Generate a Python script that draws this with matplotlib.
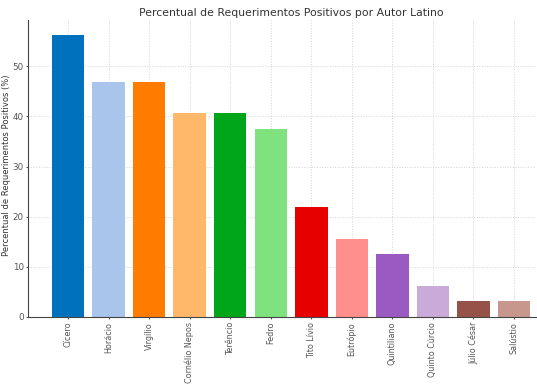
import matplotlib.pyplot as plt

# Dados
autores = ['Cícero', 'Horácio', 'Virgílio', 'Cornélio Nepos', 'Terêncio', 'Fedro',
           'Tito Lívio', 'Eutrópio', 'Quintiliano', 'Quinto Cúrcio', 'Júlio César', 'Salústio']
percentuais = [56.25, 46.875, 46.875, 40.625, 40.625, 37.5,
               21.875, 15.625, 12.5, 6.25, 3.125, 3.125]
cores = ['#0072bd', '#a9c5eb', '#ff7c00', '#ffb86a', '#00a61a', '#80e27e',
         '#e60000', '#ff8f8c', '#9b59c2', '#c9aad8', '#965248', '#c7968c']

fig = plt.figure(figsize=(5.37, 3.87), dpi=100)
ax = fig.add_axes([0.052, 0.181, 0.946, 0.767])

ax.bar(range(len(autores)), percentuais, color=cores, width=0.8, zorder=2)
ax.set_xticks(range(len(autores)))
ax.set_xticklabels(autores, rotation=90, fontsize=5.8, color='#333333')
ax.tick_params(axis='y', labelsize=6.3, labelcolor='#333333', pad=1.5)
ax.tick_params(axis='x', pad=2)
ax.tick_params(colors='#555555', length=1.5)
ax.set_xlim(-0.99, 11.54)
ax.set_ylim(0, 59.2)

ax.set_title('Percentual de Requerimentos Positivos por Autor Latino', fontsize=7.8,
             color='#333333', pad=3, x=0.518)
ax.set_ylabel('Percentual de Requerimentos Positivos (%)', fontsize=6, color='#333333')
ax.yaxis.set_label_coords(-0.034, 0.51)

ax.grid(True, linestyle=':', color='#d5d5d5', linewidth=0.7, zorder=3)
ax.spines['top'].set_visible(False)
ax.spines['right'].set_visible(False)
ax.spines['left'].set_color('#444444')
ax.spines['bottom'].set_color('#444444')

plt.savefig('out.png')
